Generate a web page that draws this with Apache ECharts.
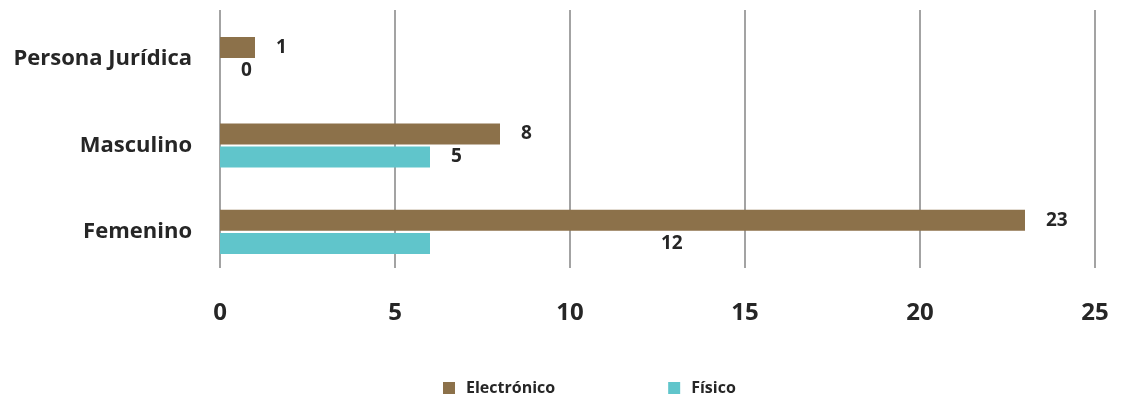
<!DOCTYPE html>
<html><head><meta charset="utf-8">
<script src="https://cdn.jsdelivr.net/npm/echarts@6/dist/echarts.min.js"></script>
<style>html,body{margin:0;padding:0;background:#fff}#c{width:1122px;height:403px}</style>
</head><body><div id="c"></div>
<script>
const categories = ['Femenino', 'Masculino', 'Persona Jurídica'];
const seriesNames = ['Electrónico', 'Físico'];
const electronico = [23, 8, 1];
const fisico = [6, 6, 0];
const electronicoLabels = [23, 8, 1];
const fisicoLabels = [12, 5, 0];
const xTicks = [0, 5, 10, 15, 20, 25];
const colors = ['#8C714A', '#60C5CB'];

const FONT = 'Open Sans';
const chart = echarts.init(document.getElementById('c'));
const labelStyle = {show: true, position: 'right', distance: 21, color: '#262626',
  fontFamily: FONT, fontWeight: 'bold', fontSize: 19};

function fisicoData(offsets) {
  return fisico.map((v, i) => ({value: v, label: {offset: [offsets ? offsets[i] : 0, 0]}}));
}

const option = {
  animation: false,
  color: colors,
  textStyle: {fontFamily: FONT},
  grid: [
    {left: 220, right: 27, top: 10, height: 258},
    {left: 220, right: 27, top: 16, height: 259}
  ],
  xAxis: [
    {gridIndex: 0, type: 'value', min: xTicks[0], max: xTicks[xTicks.length-1], interval: 5,
     axisLine: {show: false}, axisTick: {show: false},
     splitLine: {show: true, lineStyle: {color: '#a3a3a3', width: 2}},
     axisLabel: {margin: 33, color: '#262626', fontFamily: FONT, fontWeight: 'bold', fontSize: 24}},
    {gridIndex: 1, type: 'value', min: xTicks[0], max: xTicks[xTicks.length-1], interval: 5,
     show: false, splitLine: {show: false}}
  ],
  yAxis: [
    {gridIndex: 0, type: 'category', data: categories, show: false},
    {gridIndex: 1, type: 'category', data: categories,
     axisLine: {show: false}, axisTick: {show: false},
     axisLabel: {margin: 28, color: '#262626', fontFamily: FONT, fontWeight: 'bold', fontSize: 22}}
  ],
  legend: {
    bottom: 2, left: 438, itemWidth: 12, itemHeight: 12, itemGap: 113,
    icon: 'rect',
    textStyle: {color: '#262626', fontFamily: FONT, fontWeight: 'bold', fontSize: 16, padding: [0, 0, 0, 6]},
    data: seriesNames
  },
  series: [
    {name: seriesNames[0], type: 'bar', xAxisIndex: 1, yAxisIndex: 1, data: electronico,
     barWidth: 21, barGap: '10%',
     label: Object.assign({}, labelStyle, {formatter: p => electronicoLabels[p.dataIndex]})},
    {name: seriesNames[1], type: 'bar', xAxisIndex: 1, yAxisIndex: 1, data: fisicoData(null),
     barWidth: 21, barGap: '10%',
     label: Object.assign({}, labelStyle, {formatter: p => fisicoLabels[p.dataIndex]})}
  ]
};
chart.setOption(option);
// Labels of the Físico series sit at the larger of bar value and label value
const offsets = fisico.map((v, i) => {
  const target = Math.max(v, fisicoLabels[i]);
  return chart.convertToPixel({xAxisIndex: 1}, target) - chart.convertToPixel({xAxisIndex: 1}, v);
});
chart.setOption({series: [{}, {data: fisicoData(offsets)}]});
</script></body></html>
